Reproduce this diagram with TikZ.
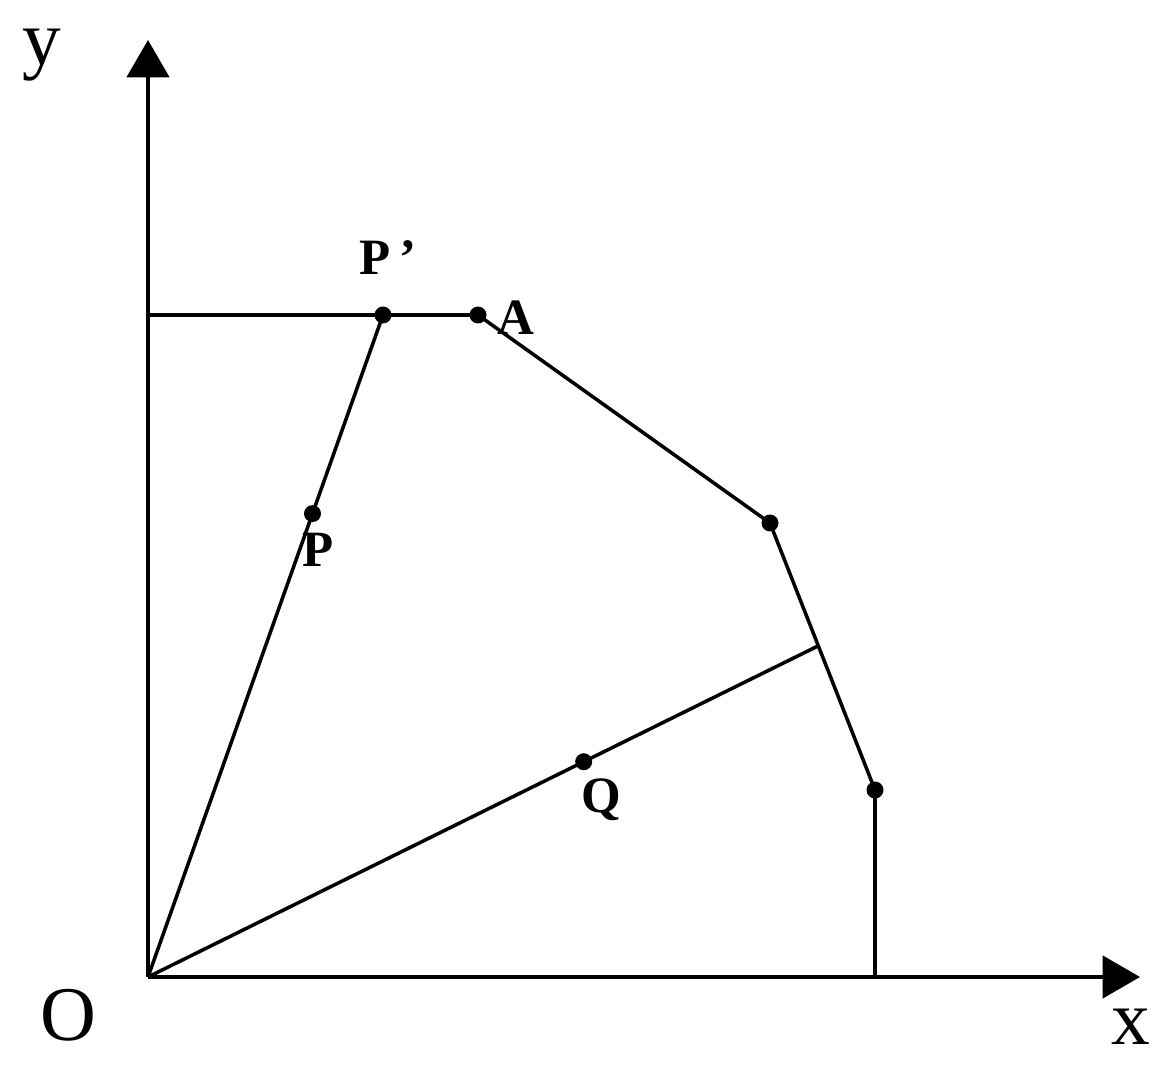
\documentclass[tikz,border=0pt]{standalone}
\usepackage{fontspec}
\setmainfont{Liberation Serif}
\usetikzlibrary{arrows.meta,calc}

\begin{document}
\begin{tikzpicture}[x=0.02cm, y=-0.02cm,
    axis/.style ={line width=2pt, -{Triangle[length=0.75cm, width=0.85cm]}},
    edge/.style ={line width=2pt},
    dot/.style ={circle, fill=black, inner sep=0pt, minimum size=0.34cm},
    axis_label/.style ={font=\fontsize{44}{48}\selectfont},
    point_label/.style ={font=\fontsize{29}{32}\selectfont\bfseries}]
    \useasboundingbox (0,0) rectangle (1171,1087);
    % axes and corner points
    \coordinate (O) at (148,977);
    \coordinate (y_tip) at (148,40);
    \coordinate (x_tip) at (1140,977);
    \coordinate (y_top) at (148,315);
    \coordinate (P_prime) at (383,315);
    \coordinate (A) at (478,315);
    \coordinate (B) at (770,523);
    \coordinate (C) at (875,790);
    \coordinate (D) at (875,977);
    \coordinate (E) at ($(B)!0.46!(C)$);
    \coordinate (P) at ($(O)!0.70!(P_prime)$);
    \coordinate (Q) at ($(O)!0.65!(E)$);
    % axes
    \draw [axis] (O) -- (y_tip);
    \draw [axis] (O) -- (x_tip);
    % boundary
    \draw [edge] (y_top) -- (A) -- (B) -- (C) -- (D);
    \draw [edge] (O) -- (P_prime);
    \draw [edge] (O) -- (E);
    % points
    \foreach \pt in {P_prime, A, B, C, P, Q}
      \node [dot] at (\pt) {};
    % labels
    \node [axis_label] (y_label) at (42,55) {y};
    \node [axis_label] (x_label) at (1131,1027) {x};
    \node [axis_label] (O_label) at (68,1015) {O};
    \node [point_label] (Pp_label) at (388,258) {P\,’};
    \node [point_label] (A_label) at (516,318) {A};
    \node [point_label] (P_label) at (318,550) {P};
    \node [point_label] (Q_label) at (601,800) {Q};
\end{tikzpicture}
\end{document}
